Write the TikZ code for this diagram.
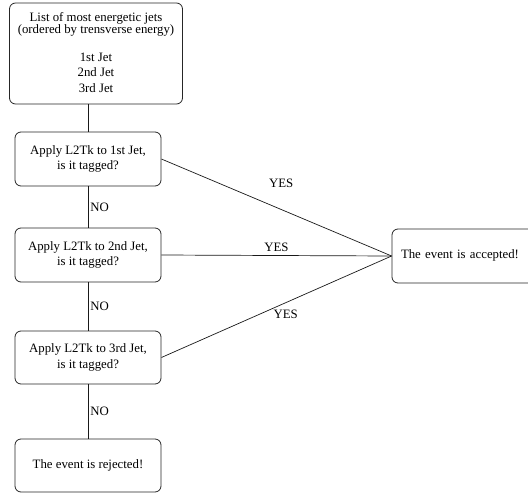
\documentclass[tikz,border=0pt]{standalone}
\usepackage{fontspec}
\setmainfont{Liberation Serif}

\begin{document}
\begin{tikzpicture}[
    x=1pt, y=-1pt,
    every node/.style={
      font=\fontsize{12.8}{15.5}\selectfont
    },
    stage/.style={
      rectangle,
      rounded corners=6pt,
      draw=black!85,
      line width=0.8pt,
      minimum width=146pt,
      minimum height=54pt,
      align=center,
      inner sep=0pt
    },
    link/.style={
      draw=black!90,
      line width=0.7pt
    },
    answer/.style={
      inner sep=2pt
    }
  ]
    \useasboundingbox (0,0) rectangle (528,493);

    \node[stage, minimum width=173pt, minimum height=101pt] (jets) at (96,53.5)
      {\raisebox{-1.5pt}{\begin{tabular}{@{}c@{}}
         List of most energetic jets\\[-3pt]
         (ordered by trensverse energy)\\[12pt]
         1st Jet\\ 2nd Jet\\ 3rd Jet
       \end{tabular}}};
    \node[stage] (jet1) at (88,159) {Apply L2Tk to 1st Jet,\\ is it tagged?};
    \node[stage] (jet2) at (88,255) {Apply L2Tk to 2nd Jet,\\ is it tagged?};
    \node[stage, minimum height=53pt] (jet3) at (88,357.5) {Apply L2Tk to 3rd Jet,\\ is it tagged?};
    \node[stage, minimum height=53pt] (reject) at (88,465.5) {The event is rejected!};
    \node[stage, minimum width=148pt, align=left, text width=130pt] (accept) at (466,256)
      {\raisebox{4pt}{The event is accepted!}};

    \draw[link] (jets.south -| jet1.north) -- (jet1.north);
    \draw[link] (jet1) -- node[answer, right] {NO} (jet2);
    \draw[link] (jet2) -- node[answer, right] {NO} (jet3);
    \draw[link] (jet3) -- node[answer, right] {NO} (reject);

    \draw[link] (jet1.east) -- node[answer, pos=.52, above=19pt] {YES} (accept.west);
    \draw[link] (jet2.east) -- node[answer, pos=.5, above=2pt] {YES} (accept.west);
    \draw[link] (jet3.east) -- node[answer, pos=.54, below=5pt] {YES} (accept.west);
  \end{tikzpicture}
\end{document}
